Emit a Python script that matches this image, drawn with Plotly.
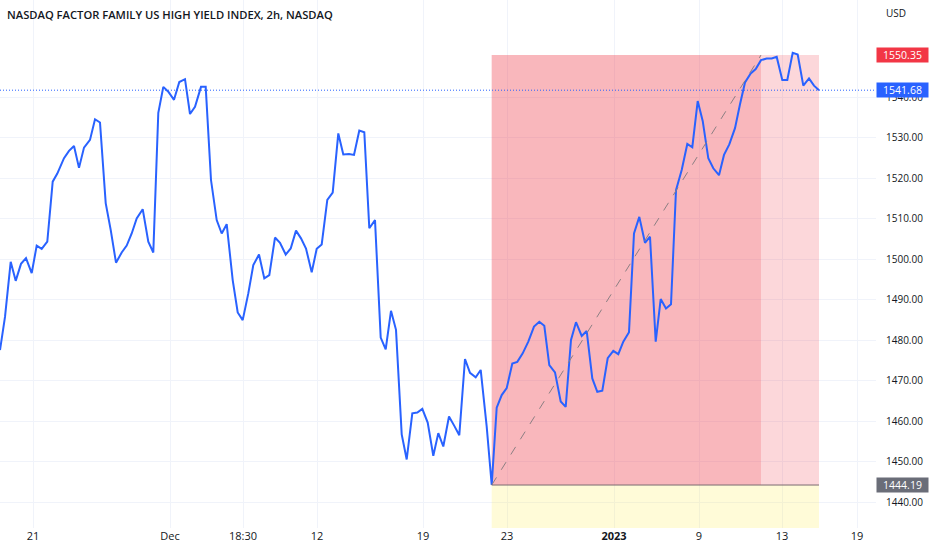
import plotly.graph_objects as go

# ---- data (x = time position along the 2h bar axis, y = index price) ----
bar_pos = [0, 5, 10.7, 15.7, 21, 26, 31.7, 36.7, 41.7, 47.3, 52.7, 57.3, 64, 69, 74, 79, 84, 90, 95, 100,
           105.7, 110.7, 116, 121.7, 126.7, 131.7, 136.7, 142.7, 148.3, 153.3, 158.3, 163.3, 168.3, 174,
           179.3, 185, 190, 195, 201, 205.7, 211, 216.7, 221.7, 226.7, 232.7, 237.7, 242.7, 248.3, 253.3,
           259, 264.3, 269.3, 275, 280, 285.7, 290.7, 296, 301, 306, 311.7, 316.7, 321.7, 327.3, 332.7,
           338.3, 343.3, 349, 354, 359.3, 364.3, 369.3, 375, 380.7, 385.7, 391, 396, 401.7, 406.7, 412.3,
           417.3, 422.3, 427.7, 433.3, 438.3, 443.3, 449, 454.3, 459.3, 465, 470, 475.7, 480.7, 486.7,
           491.7, 496.7, 501.7, 506.7, 512.3, 517.3, 522.7, 528.3, 534, 539.3, 544.3, 549.3, 555, 560.7,
           565.7, 571, 576, 581.7, 586.7, 592.3, 597.3, 602.3, 607.7, 613.3, 618.3, 623.3, 629, 634,
           639.3, 645, 650, 655.7, 660.7, 666, 671, 676, 681.7, 687.3, 692.3, 697.7, 702.7, 708.3, 713.3,
           719, 724, 729.3, 735, 740, 745, 750.7, 755.7, 761, 766.7, 771.7, 776.7, 782.3, 787.3, 792.7,
           797.7, 803.3, 809, 814, 819]
price = [1477.5, 1485.7, 1499.3, 1494.6, 1498.8, 1500.2, 1496.5, 1503.3, 1502.5, 1504.3, 1519.1, 1521.1,
         1524.9, 1526.7, 1527.9, 1522.5, 1527.5, 1529.4, 1534.5, 1533.7, 1513.8, 1507.2, 1499.1, 1501.6,
         1503.3, 1506.3, 1510.0, 1512.3, 1504.3, 1501.6, 1536.1, 1542.5, 1541.3, 1539.3, 1543.7, 1544.4,
         1535.8, 1537.6, 1542.5, 1542.5, 1519.5, 1509.6, 1506.3, 1508.6, 1494.8, 1486.8, 1484.9, 1491.5,
         1498.5, 1501.1, 1495.2, 1496.0, 1505.3, 1504.0, 1501.1, 1502.6, 1507.0, 1505.1, 1502.6, 1496.7,
         1502.5, 1503.6, 1514.6, 1516.4, 1531.0, 1525.8, 1525.9, 1525.7, 1531.7, 1531.3, 1507.6, 1509.6,
         1480.6, 1477.7, 1487.2, 1482.5, 1456.7, 1450.5, 1461.9, 1462.1, 1463.0, 1459.6, 1451.4, 1457.0,
         1453.7, 1461.1, 1458.8, 1456.5, 1475.3, 1471.9, 1470.8, 1472.6, 1458.6, 1444.19, 1463.3, 1466.4,
         1468.1, 1474.2, 1474.6, 1476.7, 1479.6, 1483.3, 1484.5, 1483.5, 1473.8, 1472.0, 1464.8, 1463.5,
         1480.0, 1484.4, 1481.0, 1482.2, 1470.5, 1467.2, 1467.5, 1475.5, 1477.3, 1476.5, 1479.6, 1481.9,
         1506.3, 1510.4, 1504.0, 1505.5, 1479.6, 1490.1, 1487.8, 1488.8, 1517.0, 1522.0, 1528.4, 1527.6,
         1539.0, 1534.1, 1524.9, 1522.4, 1520.7, 1525.7, 1528.3, 1532.3, 1538.2, 1543.6, 1545.8, 1546.9,
         1549.1, 1549.5, 1549.5, 1549.9, 1544.2, 1544.2, 1550.9, 1550.5, 1542.8, 1544.6, 1542.8, 1541.68]

tick_pos = [33, 170, 243, 317, 423, 507, 614, 699, 782, 857]
tick_text = ["21", "Dec", "18:30", "12", "19", "23", "<b>2023</b>", "9", "13", "19"]

entry_price = 1444.19
stop_price = 1550.35
last_price = 1541.68
pos_start = 491.7
pos_hit = 761
pos_end = 819

x_range = [0, 876]
y_range = [1433.58, 1563.95]
y_ticks = [1440, 1450, 1460, 1470, 1480, 1490, 1500, 1510, 1520, 1530, 1540]

TEXT = "#131722"
GRID = "#f0f3fa"
RED_ZONE = "rgba(242,54,69,0.2)"
YELLOW_ZONE = "rgba(255,235,59,0.2)"

fig = go.Figure()
fig.add_trace(go.Scatter(x=bar_pos, y=price, mode="lines",
                         line=dict(color="#2962ff", width=2), hoverinfo="skip", showlegend=False))

shapes = [
    dict(type="rect", xref="x", yref="y", x0=pos_start, x1=pos_end, y0=y_range[0], y1=entry_price,
         fillcolor=YELLOW_ZONE, line=dict(width=0), layer="between"),
    dict(type="rect", xref="x", yref="y", x0=pos_start, x1=pos_end, y0=entry_price, y1=stop_price,
         fillcolor=RED_ZONE, line=dict(width=0), layer="between"),
    dict(type="rect", xref="x", yref="y", x0=pos_start, x1=pos_hit, y0=entry_price, y1=stop_price,
         fillcolor=RED_ZONE, line=dict(width=0), layer="between"),
    dict(type="line", xref="x", yref="y", x0=pos_start, x1=pos_end, y0=entry_price, y1=entry_price,
         line=dict(color="#7a6a70", width=1)),
    dict(type="line", xref="x", yref="y", x0=pos_start, x1=pos_hit, y0=entry_price, y1=stop_price,
         line=dict(color="#8c7f83", width=1, dash="dash")),
    dict(type="line", xref="paper", yref="y", x0=0, x1=1, y0=last_price, y1=last_price,
         line=dict(color="#2962ff", width=1, dash="1px,2px")),
]

annotations = [
    dict(text="NASDAQ FACTOR FAMILY US HIGH YIELD INDEX, 2h, NASDAQ", xref="paper", yref="paper",
         x=0, y=1, xanchor="left", yanchor="top", xshift=5, yshift=-5, showarrow=False,
         font=dict(family="Open Sans", size=11.2, color=TEXT, weight=600)),
    dict(text="USD", xref="paper", yref="paper", x=1, y=1, xanchor="left", yanchor="top",
         xshift=8, yshift=-4, showarrow=False, font=dict(family="Open Sans", size=10, color=TEXT)),
]
for val, bg in [(stop_price, "#f23645"), (last_price, "#2962ff"), (entry_price, "#6a6d78")]:
    annotations.append(dict(text=f"{val:.2f}", xref="paper", yref="y", x=1, y=val,
                            xanchor="left", yanchor="middle", showarrow=False, bgcolor=bg,
                            borderpad=1, width=49, height=12, align="center",
                            font=dict(family="Open Sans", size=10.5, color="white")))

fig.update_layout(
    width=932, height=550,
    margin=dict(l=0, r=56, t=0, b=22),
    paper_bgcolor="white", plot_bgcolor="white",
    shapes=shapes, annotations=annotations,
    xaxis=dict(range=x_range, tickmode="array", tickvals=tick_pos, ticktext=tick_text,
               showgrid=True, gridcolor=GRID, gridwidth=1, zeroline=False, showline=False,
               ticks="", tickfont=dict(family="Open Sans", size=11, color=TEXT), fixedrange=True),
    yaxis=dict(range=y_range, side="right", tickmode="array", tickvals=y_ticks,
               ticktext=[f"{v:.2f}" for v in y_ticks],
               showgrid=True, gridcolor=GRID, gridwidth=1, zeroline=False, showline=False,
               ticks="", ticklabelstandoff=9,
               tickfont=dict(family="Open Sans", size=10, color=TEXT)),
)

fig.write_html("out.html", config={"displayModeBar": False},
               post_script="document.body.style.margin='0';")
